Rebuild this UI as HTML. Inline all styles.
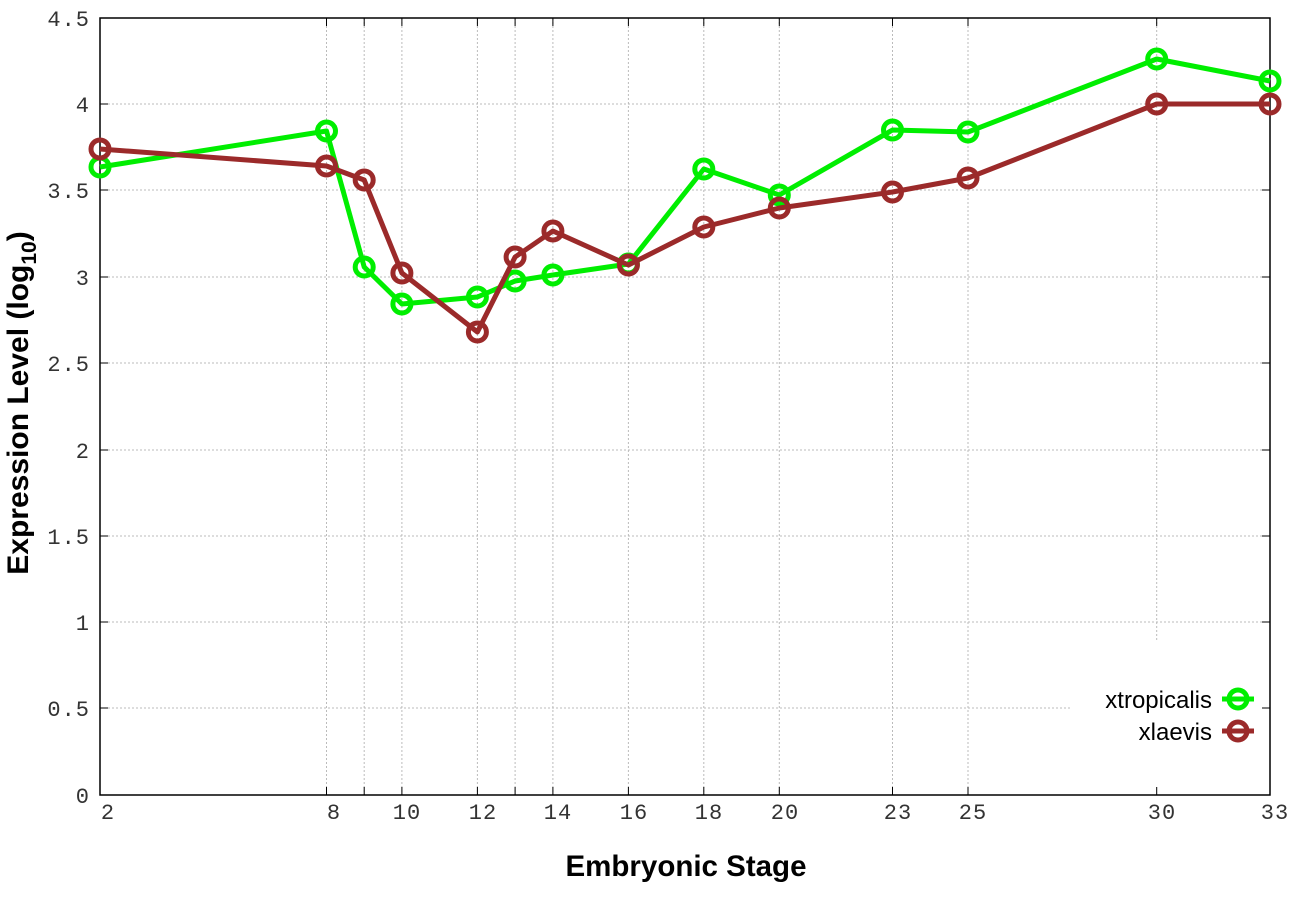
<!DOCTYPE html>
<html><head><meta charset="utf-8"><style>body{margin:0;background:#fff}</style></head><body>
<svg width="1296" height="907" xmlns="http://www.w3.org/2000/svg" font-family="Liberation Mono, monospace">
<rect width="1296" height="907" fill="#fff"/>
<g stroke="#bbb" stroke-width="1" stroke-dasharray="2,2">
<line x1="100" x2="1270" y1="104" y2="104"/><line x1="100" x2="1270" y1="190" y2="190"/>
<line x1="100" x2="1270" y1="277" y2="277"/><line x1="100" x2="1270" y1="363" y2="363"/>
<line x1="100" x2="1270" y1="450" y2="450"/><line x1="100" x2="1270" y1="536" y2="536"/>
<line x1="100" x2="1270" y1="622" y2="622"/><line x1="100" x2="1070" y1="708" y2="708"/>
<line x1="326.5" x2="326.5" y1="18" y2="795"/><line x1="364.2" x2="364.2" y1="18" y2="795"/>
<line x1="401.9" x2="401.9" y1="18" y2="795"/><line x1="477.4" x2="477.4" y1="18" y2="795"/>
<line x1="515.1" x2="515.1" y1="18" y2="795"/><line x1="552.9" x2="552.9" y1="18" y2="795"/>
<line x1="628.4" x2="628.4" y1="18" y2="795"/><line x1="703.8" x2="703.8" y1="18" y2="795"/>
<line x1="779.3" x2="779.3" y1="18" y2="795"/><line x1="892.5" x2="892.5" y1="18" y2="795"/>
<line x1="968" x2="968" y1="18" y2="795"/><line x1="1156.7" x2="1156.7" y1="18" y2="640"/>
</g>
<rect x="100" y="18" width="1170" height="777" fill="none" stroke="#000" stroke-width="1.5"/>
<g stroke="#000" stroke-width="1">
<path d="M100 104h8M100 190h8M100 277h8M100 363h8M100 450h8M100 536h8M100 622h8M100 708h8M1270 104h-8M1270 190h-8M1270 277h-8M1270 363h-8M1270 450h-8M1270 536h-8M1270 622h-8M1270 708h-8"/>
<path d="M326.5 795v-8M364.2 795v-8M401.9 795v-8M477.4 795v-8M515.1 795v-8M552.9 795v-8M628.4 795v-8M703.8 795v-8M779.3 795v-8M892.5 795v-8M968 795v-8M1156.7 795v-8M326.5 18v8M364.2 18v8M401.9 18v8M477.4 18v8M515.1 18v8M552.9 18v8M628.4 18v8M703.8 18v8M779.3 18v8M892.5 18v8M968 18v8M1156.7 18v8"/>
</g>
<g font-size="22" fill="#333" text-anchor="end" letter-spacing="1">
<text x="90" y="26">4.5</text><text x="90" y="112">4</text><text x="90" y="198">3.5</text>
<text x="90" y="285">3</text><text x="90" y="371">2.5</text><text x="90" y="458">2</text>
<text x="90" y="544">1.5</text><text x="90" y="630">1</text><text x="90" y="716">0.5</text><text x="90" y="803">0</text>
</g>
<g font-size="22" fill="#333" text-anchor="middle" letter-spacing="1">
<text x="108" y="819">2</text><text x="334" y="819">8</text><text x="407" y="819">10</text>
<text x="483" y="819">12</text><text x="558" y="819">14</text><text x="634" y="819">16</text>
<text x="709" y="819">18</text><text x="785" y="819">20</text><text x="898" y="819">23</text>
<text x="973" y="819">25</text><text x="1162" y="819">30</text><text x="1275" y="819">33</text>
</g>
<text x="686" y="876" text-anchor="middle" font-family="Liberation Sans, sans-serif" font-weight="bold" font-size="29.5">Embryonic Stage</text>
<text transform="translate(28,403) rotate(-90)" text-anchor="middle" font-family="Liberation Sans, sans-serif" font-weight="bold" font-size="30">Expression Level (log<tspan font-size="21" dy="8">10</tspan><tspan dy="-8">)</tspan></text>
<g fill="none" stroke-width="5" stroke-linejoin="round">
<polyline stroke="#00ee00" points="100,167 326.5,131 364.2,267 401.9,304 477.4,297 515.1,281 552.9,275 628.4,264 703.8,169 779.3,195 892.5,130 968,132 1156.7,59 1270,81"/>
<g stroke="#00ee00"><circle cx="100" cy="167" r="9"/><circle cx="326.5" cy="131" r="9"/><circle cx="364.2" cy="267" r="9"/><circle cx="401.9" cy="304" r="9"/><circle cx="477.4" cy="297" r="9"/><circle cx="515.1" cy="281" r="9"/><circle cx="552.9" cy="275" r="9"/><circle cx="628.4" cy="264" r="9"/><circle cx="703.8" cy="169" r="9"/><circle cx="779.3" cy="195" r="9"/><circle cx="892.5" cy="130" r="9"/><circle cx="968" cy="132" r="9"/><circle cx="1156.7" cy="59" r="9"/><circle cx="1270" cy="81" r="9"/></g>
<polyline stroke="#9b2a2a" points="100,149 326.5,166 364.2,180 401.9,273 477.4,332 515.1,257 552.9,231 628.4,265 703.8,227 779.3,208 892.5,192 968,178 1156.7,104 1270,104"/>
<g stroke="#9b2a2a"><circle cx="100" cy="149" r="9"/><circle cx="326.5" cy="166" r="9"/><circle cx="364.2" cy="180" r="9"/><circle cx="401.9" cy="273" r="9"/><circle cx="477.4" cy="332" r="9"/><circle cx="515.1" cy="257" r="9"/><circle cx="552.9" cy="231" r="9"/><circle cx="628.4" cy="265" r="9"/><circle cx="703.8" cy="227" r="9"/><circle cx="779.3" cy="208" r="9"/><circle cx="892.5" cy="192" r="9"/><circle cx="968" cy="178" r="9"/><circle cx="1156.7" cy="104" r="9"/><circle cx="1270" cy="104" r="9"/></g>
<line x1="1222" x2="1254" y1="699" y2="699" stroke="#00ee00"/><circle cx="1238" cy="699" r="9" stroke="#00ee00"/>
<line x1="1222" x2="1254" y1="731" y2="731" stroke="#9b2a2a"/><circle cx="1238" cy="731" r="9" stroke="#9b2a2a"/>
</g>
<g font-family="Liberation Sans, sans-serif" font-size="24" text-anchor="end" fill="#000">
<text x="1212" y="708">xtropicalis</text><text x="1212" y="740">xlaevis</text>
</g>
</svg>
</body></html>
